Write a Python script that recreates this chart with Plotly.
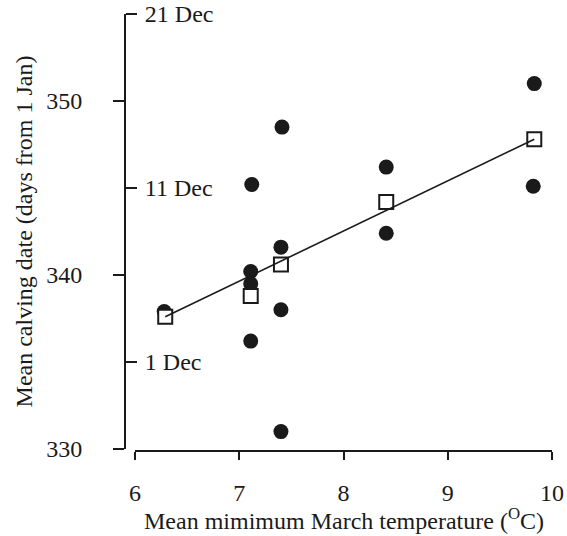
import plotly.graph_objects as go

# Individual data (filled circles)
temp_obs = [6.28, 7.11, 7.11, 7.11, 7.12, 7.41, 7.40, 7.40, 7.40, 8.41, 8.41, 9.83, 9.82]
date_obs = [337.9, 340.2, 339.5, 336.2, 345.2, 348.5, 341.6, 338.0, 331.0, 346.2, 342.4, 351.0, 345.1]

# Group means (open squares)
temp_mean = [6.29, 7.11, 7.40, 8.41, 9.83]
date_mean = [337.6, 338.8, 340.6, 344.2, 347.8]

# Regression line end points
temp_fit = [6.29, 9.83]
date_fit = [337.6, 347.8]

# Axis ticks
x_ticks = [6, 7, 8, 9, 10]
y_ticks = [330, 340, 350]
date_ticks = [335, 345, 355]
date_labels = ["1 Dec", "11 Dec", "21 Dec"]

FONT = "Liberation Serif, Times New Roman, serif"
INK = "#1a1a1a"
X_DOMAIN = [10 / 427, 1]

fig = go.Figure()
fig.add_trace(go.Scatter(x=temp_obs, y=date_obs, mode="markers",
                         marker=dict(symbol="circle", size=15, color=INK, line=dict(width=0)),
                         showlegend=False))
fig.add_trace(go.Scatter(x=temp_mean, y=date_mean, mode="markers",
                         marker=dict(symbol="square", size=14, color="white",
                                     line=dict(width=2, color=INK)),
                         showlegend=False))
fig.add_trace(go.Scatter(x=temp_fit, y=date_fit, mode="lines",
                         line=dict(color=INK, width=1.6), showlegend=False))
# invisible trace to activate the date axis
fig.add_trace(go.Scatter(x=[6], y=[330], yaxis="y2", mode="markers",
                         marker=dict(opacity=0), showlegend=False, hoverinfo="skip"))

fig.update_layout(
    width=567, height=536,
    margin=dict(l=125, r=15, t=14, b=85),
    paper_bgcolor="white", plot_bgcolor="white",
    font=dict(family=FONT, size=24, color=INK),
    xaxis=dict(domain=X_DOMAIN, range=[6, 10], tickvals=x_ticks,
               showline=True, linewidth=2, linecolor=INK, ticks="outside",
               ticklen=8, tickwidth=2, tickcolor=INK, showgrid=False, zeroline=False,
               anchor="free", position=0, ticklabelstandoff=12, automargin=False),
    yaxis=dict(domain=[2 / 437, 1], range=[330, 355], tickvals=y_ticks,
               showline=True, linewidth=2, linecolor=INK, ticks="outside",
               ticklen=11, tickwidth=2, tickcolor=INK, showgrid=False, zeroline=False,
               anchor="free", position=0, side="left", ticklabelstandoff=26,
               automargin=False,
               title=dict(text="Mean calving date (days from 1 Jan)",
                          font=dict(size=24), standoff=6)),
    yaxis2=dict(overlaying="y", range=[330, 355], tickvals=date_ticks, ticktext=date_labels,
                anchor="free", position=0, side="right", showline=False,
                ticks="outside", ticklen=11, tickwidth=2, tickcolor=INK,
                showgrid=False, zeroline=False, ticklabelstandoff=3, automargin=False),
    annotations=[dict(text="Mean mimimum March temperature (<sup>O</sup>C)",
                      xref="paper", yref="paper", x=sum(X_DOMAIN) / 2, y=0,
                      xanchor="center", yanchor="middle", yshift=-68,
                      showarrow=False, font=dict(size=24, color=INK))],
)

fig.write_html("out.html", config={"displayModeBar": False},
               post_script="document.body.style.margin='0';document.body.style.overflow='hidden';")
